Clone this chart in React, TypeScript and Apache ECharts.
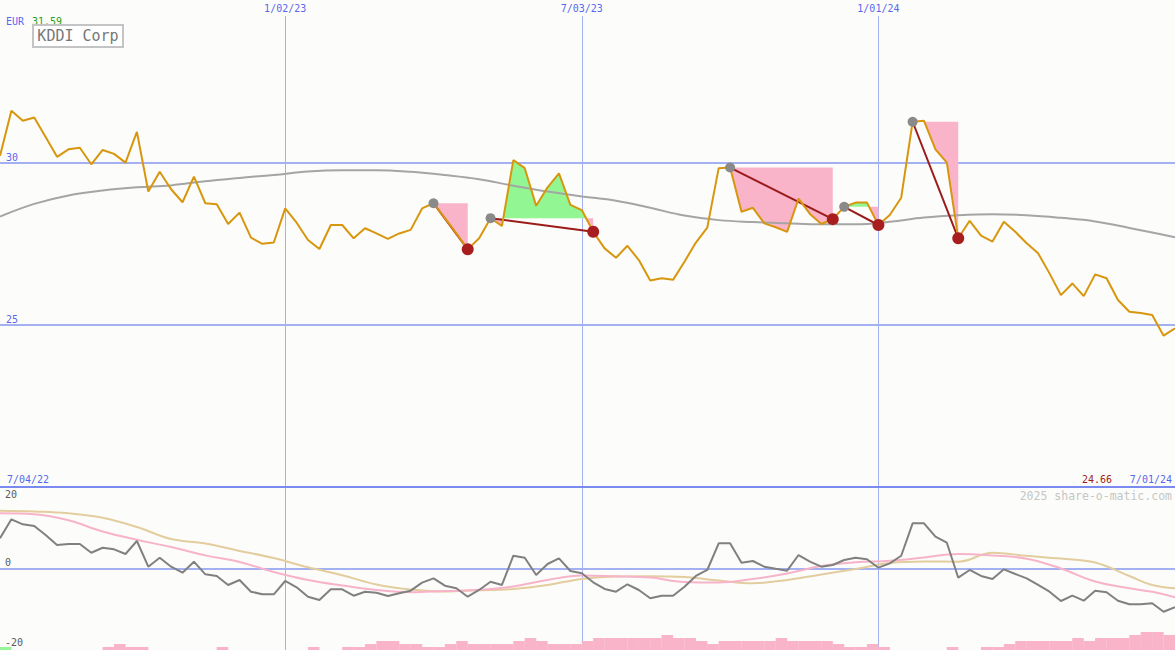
import React, { useEffect, useRef } from "react";
import * as echarts from "echarts";

// ---------- data ----------
// weekly closing price, week 1 .. week 104
const price = [
  30.2, 31.59, 31.28, 31.38, 30.78, 30.17, 30.4, 30.45, 29.94, 30.38,
  30.26, 29.99, 30.94, 29.1, 29.71, 29.17, 28.77, 29.56, 28.74, 28.71,
  28.1, 28.45, 27.68, 27.49, 27.53, 28.58, 28.14, 27.61, 27.33, 28.07,
  28.07, 27.66, 27.97, 27.81, 27.64, 27.81, 27.92, 28.58, 28.74, 28.28,
  27.81, 27.32, 27.66, 28.28, 28.04, 30.07, 29.82, 28.66, 29.23, 29.66,
  28.69, 28.53, 27.86, 27.35, 27.06, 27.43, 26.99, 26.36, 26.43, 26.38,
  26.94, 27.53, 27.99, 29.82, 29.84, 28.48, 28.6, 28.12, 28.0, 27.86,
  28.88, 28.41, 28.1, 28.25, 28.63, 28.76, 28.76, 28.07, 28.38, 28.91,
  31.25, 31.28, 30.4, 29.99, 27.66, 28.2, 27.74, 27.56, 28.17, 27.86,
  27.51, 27.2, 26.58, 25.91, 26.27, 25.88, 26.55, 26.43, 25.76, 25.4,
  25.36, 25.3, 24.66, 24.89,
];

// weeks at which the smooth curves were read
const smoothWeeks = [
  1, 4, 7, 10, 13, 16, 19, 22, 25, 28, 31, 34, 37, 40, 43, 46, 49, 52,
  55, 58, 61, 64, 67, 70, 73, 76, 79, 82, 85, 88, 91, 94, 97, 100, 102, 104,
];
const movingAverage = [
  28.33, 28.72, 28.98, 29.13, 29.23, 29.29, 29.42, 29.52, 29.61, 29.72,
  29.76, 29.76, 29.71, 29.61, 29.48, 29.28, 29.1, 28.95, 28.82, 28.6,
  28.36, 28.22, 28.16, 28.12, 28.09, 28.09, 28.17, 28.3, 28.37, 28.4,
  28.37, 28.29, 28.18, 27.98, 27.84, 27.69,
];
const oscPink = [
  14.9, 14.63, 13.01, 9.99, 7.75, 5.8, 3.54, 1.75, -0.94, -3.1, -4.59,
  -5.8, -6.42, -6.07, -5.75, -4.86, -3.1, -1.86, -2.08, -2.43, -3.64,
  -3.78, -2.83, -1.35, 0.67, 1.67, 2.08, 2.97, 3.91, 3.51, 2.65, 0.0,
  -3.51, -5.34, -6.29, -7.77,
];
const oscTan = [
  15.6, 15.38, 14.9, 13.68, 11.2, 7.96, 6.75, 4.72, 2.83, 0.32, -1.81,
  -4.32, -5.67, -6.21, -5.86, -5.53, -4.45, -2.81, -2.16, -2.11, -2.29,
  -3.24, -3.97, -3.1, -1.62, -0.11, 1.48, 1.89, 1.84, 4.24, 3.43, 2.67,
  1.62, -2.02, -4.45, -5.34,
];

// weekly oscillator, week 1 .. week 104
const oscGray = [
  8.15, 13.28, 11.93, 11.47, 9.04, 6.34, 6.61, 6.61, 4.26, 5.61,
  5.18, 3.91, 7.42, 0.49, 2.91, 0.49, -1.13, 1.84, -1.57, -2.02,
  -4.45, -3.1, -6.26, -6.96, -6.96, -3.37, -5.07, -7.61, -8.5, -5.61,
  -5.61, -7.34, -6.26, -6.53, -7.42, -6.69, -5.99, -3.83, -2.65, -4.64,
  -5.34, -7.61, -5.8, -3.56, -4.45, 3.45, 2.91, -1.75, 1.21, 2.75,
  -0.67, -1.3, -3.72, -5.53, -6.26, -4.26, -5.8, -8.04, -7.34, -7.34,
  -4.91, -2.02, -0.4, 6.8, 6.8, 1.57, 2.02, 0.49, -0.08, -0.59,
  3.64, 1.84, 0.49, 0.94, 2.29, 2.91, 2.48, 0.22, 1.4, 3.45,
  12.2, 12.2, 8.58, 6.96, -2.48, -0.4, -2.02, -2.83, -0.22, -1.48,
  -2.65, -4.45, -6.26, -8.77, -7.34, -8.69, -5.99, -6.42, -8.69, -9.66,
  -9.66, -9.39, -11.66, -10.47,
];

// weekly histogram, week 1 .. week 103 (positive = green, negative = pink)
const histValues = [
  1, 0, 0, 0, 0, 0, 0, 0, 0, -1,
  -2, -1, -1, 0, 0, 0, 0, 0, 0, -1,
  0, 0, 0, 0, 0, 0, 0, -1, 0, 0,
  -1, -1, -2, -3, -3, -2, -2, -1, -1, -2,
  -3, -2, -2, -2, -2, -3, -4, -3, -2, -2,
  -2, -3, -4, -4, -4, -4, -4, -4, -5, -4,
  -4, -3, -2, -3, -3, -3, -3, -3, -4, -3,
  -3, -3, -3, -2, -1, -1, -2, -1, 0, 0,
  0, 0, 0, -1, 0, 0, -1, -1, -2, -3,
  -3, -3, -3, -3, -4, -3, -4, -4, -4, -5,
  -6, -6, -5,
];

// swing high -> following low
const highWeeks = [39, 44, 65, 75, 81];
const lowWeeks = [42, 53, 74, 78, 85];

const dateTicks = [26, 52, 78];
const dateLabels = ["1/02/23", "7/03/23", "1/01/24"];
const rangeLabels = ["7/04/22", "7/01/24"];
const priceTicks = [25, 30];
const oscTicks = [-20, 0, 20];
const currency = "EUR";
const company = "KDDI Corp";
const watermark = "2025 share-o-matic.com";

// ---------- styling ----------
const X_MIN = 1;
const X_MAX = 104;
const BG = "#fcfdfa";
const BLUE_TEXT = "#5868ee";
const GRID_LINE = "#a3b1f3";
const SEP = "#7a8af0";
const FONT = '"DejaVu Sans Mono", "Liberation Mono", monospace';

const priceAt = (w: number) => price[w - 1];

type Fill = { pts: number[][]; up: boolean };

function buildFills(): Fill[] {
  const polys: Fill[] = [];
  highWeeks.forEach((s, n) => {
    const e = lowWeeks[n];
    const L = priceAt(s);
    const seq: { x: number; v: number; d: number }[] = [];
    for (let w = s; w <= e; w++) {
      const v = priceAt(w);
      const d = v - L;
      if (w > s) {
        const pd = priceAt(w - 1) - L;
        if ((pd > 0 && d < 0) || (pd < 0 && d > 0)) {
          const t = pd / (pd - d);
          seq.push({ x: w - 1 + t, v: L, d: 0 });
        }
      }
      seq.push({ x: w, v, d });
    }
    let run = [seq[0]];
    const flush = () => {
      const ref = run.find((p) => p.d !== 0);
      if (ref && run.length >= 2) {
        const pts = run.map((p) => [p.x, p.v]);
        pts.push([run[run.length - 1].x, L]);
        pts.push([run[0].x, L]);
        polys.push({ pts, up: ref.d > 0 });
      }
    };
    for (let k = 1; k < seq.length; k++) {
      run.push(seq[k]);
      if (seq[k].d === 0 && k < seq.length - 1) {
        flush();
        run = [seq[k]];
      }
    }
    flush();
  });
  return polys;
}

export default function App() {
  const ref = useRef<HTMLDivElement>(null);

  useEffect(() => {
    if (!ref.current) return;
    const chart = echarts.init(ref.current, undefined, { renderer: "svg" });
    const fills = buildFills();
    const maxPrice = Math.max(...price);
    const minPrice = Math.min(...price);

    const weekly = (arr: number[]) => arr.map((v, k) => [k + 1, v]);
    const sampled = (arr: number[]) => arr.map((v, k) => [smoothWeeks[k], v]);

    const option: any = {
      animation: false,
      backgroundColor: BG,
      grid: [
        { left: 0, top: 0, width: 1175, height: 487 },
        { left: 0, top: 487, width: 1175, height: 163 },
      ],
      xAxis: [
        {
          type: "value",
          gridIndex: 0,
          position: "top",
          min: X_MIN,
          max: X_MAX,
          axisLine: { show: false, onZero: false },
          axisTick: { show: false, customValues: dateTicks },
          axisLabel: {
            show: true,
            inside: true,
            customValues: dateTicks,
            formatter: (v: number) => {
              const k = dateTicks.indexOf(v);
              return k >= 0 ? dateLabels[k] : "";
            },
            color: BLUE_TEXT,
            fontFamily: FONT,
            fontSize: 10,
            margin: 0,
            padding: [3, 3, 3, 3],
            backgroundColor: BG,
          },
          splitLine: { show: true, lineStyle: { color: GRID_LINE, width: 1 } },
        },
        {
          type: "value",
          gridIndex: 0,
          position: "bottom",
          min: X_MIN,
          max: X_MAX,
          axisLine: { show: true, onZero: false, lineStyle: { color: SEP, width: 2 } },
          axisTick: { show: false, customValues: [X_MIN, X_MAX] },
          axisLabel: {
            show: true,
            inside: true,
            customValues: [X_MIN, X_MAX],
            formatter: (v: number) => (v === X_MIN ? rangeLabels[0] : rangeLabels[1]),
            alignMinLabel: "left",
            alignMaxLabel: "right",
            padding: [0, 3, 0, 7],
            margin: 3,
            color: BLUE_TEXT,
            fontFamily: FONT,
            fontSize: 10,
          },
          splitLine: { show: false },
        },
        {
          type: "value",
          gridIndex: 1,
          position: "bottom",
          min: X_MIN,
          max: X_MAX,
          axisLine: { show: false, onZero: false },
          axisTick: { show: false, customValues: dateTicks },
          axisLabel: { show: false },
          splitLine: { show: true, lineStyle: { color: GRID_LINE, width: 1 } },
        },
      ],
      yAxis: [
        {
          type: "value",
          gridIndex: 0,
          min: 20,
          max: 35,
          axisLine: { show: false },
          axisTick: { show: false, customValues: priceTicks },
          axisLabel: {
            show: true,
            inside: true,
            customValues: priceTicks,
            verticalAlign: "bottom",
            margin: 6,
            color: BLUE_TEXT,
            fontFamily: FONT,
            fontSize: 10,
          },
          splitLine: { show: true, lineStyle: { color: GRID_LINE, width: 2 } },
        },
        {
          type: "value",
          gridIndex: 1,
          min: -22,
          max: 22,
          axisLine: { show: false },
          axisTick: { show: false, customValues: [0] },
          axisLabel: {
            show: true,
            inside: true,
            customValues: oscTicks,
            margin: 5,
            color: "#5a5a5a",
            fontFamily: FONT,
            fontSize: 10,
            formatter: (v: number) => (v === 0 ? "{z|0}" : String(v)),
            rich: {
              z: {
                padding: [0, 0, 13, 0],
                color: "#5a5a5a",
                fontFamily: FONT,
                fontSize: 10,
              },
            },
          },
          splitLine: { show: true, lineStyle: { color: GRID_LINE, width: 2 } },
        },
        {
          type: "value",
          gridIndex: 1,
          position: "right",
          min: 0,
          max: 54.33,
          show: false,
          splitLine: { show: false },
        },
      ],
      series: [
        {
          type: "custom",
          xAxisIndex: 0,
          yAxisIndex: 0,
          silent: true,
          z: 1,
          data: fills.map((f, k) => [f.pts[0][0], f.pts[0][1], k]),
          renderItem: (params: any, api: any) => {
            const f = fills[params.dataIndex];
            const points = f.pts.map((p) => api.coord(p));
            return {
              type: "polygon",
              shape: { points },
              style: { fill: f.up ? "#92f792" : "#f9b4ca" },
            };
          },
        },
        {
          type: "line",
          xAxisIndex: 0,
          yAxisIndex: 0,
          data: sampled(movingAverage),
          smooth: 0.4,
          symbol: "none",
          silent: true,
          z: 2,
          lineStyle: { color: "#a5a5a5", width: 2 },
        },
        {
          type: "lines",
          coordinateSystem: "cartesian2d",
          xAxisIndex: 0,
          yAxisIndex: 0,
          silent: true,
          z: 3,
          data: highWeeks.map((s, n) => ({
            coords: [
              [s, priceAt(s)],
              [lowWeeks[n], priceAt(lowWeeks[n])],
            ],
          })),
          lineStyle: { color: "#9b1b1b", width: 2, opacity: 1 },
        },
        {
          type: "line",
          xAxisIndex: 0,
          yAxisIndex: 0,
          data: weekly(price),
          symbol: "none",
          silent: true,
          z: 4,
          lineStyle: { color: "#d8960e", width: 2 },
        },
        {
          type: "scatter",
          xAxisIndex: 0,
          yAxisIndex: 0,
          data: highWeeks.map((w) => [w, priceAt(w)]),
          symbolSize: 10,
          silent: true,
          z: 5,
          itemStyle: { color: "#8a8a8a", opacity: 1 },
        },
        {
          type: "scatter",
          xAxisIndex: 0,
          yAxisIndex: 0,
          data: lowWeeks.map((w) => [w, priceAt(w)]),
          symbolSize: 12,
          silent: true,
          z: 5,
          itemStyle: { color: "#a81e1e", opacity: 1 },
        },
        {
          type: "bar",
          xAxisIndex: 2,
          yAxisIndex: 2,
          barWidth: 11.6,
          silent: true,
          data: histValues
            .map((v, k) => ({ v, w: k + 1 }))
            .filter((d) => d.v !== 0)
            .map((d) => ({
              value: [d.w + 0.5, Math.abs(d.v)],
              itemStyle: { color: d.v > 0 ? "#96f596" : "#f9b4c9" },
            })),
        },
        {
          type: "line",
          xAxisIndex: 2,
          yAxisIndex: 1,
          data: sampled(oscTan),
          smooth: 0.4,
          symbol: "none",
          silent: true,
          lineStyle: { color: "#e3cd9e", width: 2 },
        },
        {
          type: "line",
          xAxisIndex: 2,
          yAxisIndex: 1,
          data: sampled(oscPink),
          smooth: 0.4,
          symbol: "none",
          silent: true,
          lineStyle: { color: "#f7b3c9", width: 2 },
        },
        {
          type: "line",
          xAxisIndex: 2,
          yAxisIndex: 1,
          data: weekly(oscGray),
          symbol: "none",
          silent: true,
          lineStyle: { color: "#808080", width: 2 },
        },
      ],
      graphic: [
        {
          type: "text",
          x: 6,
          y: 21,
          style: { text: currency, fill: BLUE_TEXT, font: `10px ${FONT}`, verticalAlign: "middle" },
        },
        {
          type: "text",
          x: 32,
          y: 21,
          style: { text: maxPrice.toFixed(2), fill: "#22a022", font: `10px ${FONT}`, verticalAlign: "middle" },
        },
        {
          type: "rect",
          shape: { x: 33, y: 25, width: 90, height: 22 },
          style: { fill: "#ffffff", stroke: "#c4c4c4", lineWidth: 2 },
        },
        {
          type: "text",
          x: 78,
          y: 36,
          style: {
            text: company,
            fill: "#777777",
            font: `15px ${FONT}`,
            align: "center",
            verticalAlign: "middle",
          },
        },
        {
          type: "text",
          x: 1112,
          y: 479,
          style: {
            text: minPrice.toFixed(2),
            fill: "#a01c1c",
            font: `10px ${FONT}`,
            align: "right",
            verticalAlign: "middle",
          },
        },
        {
          type: "text",
          x: 1172,
          y: 496,
          style: {
            text: watermark,
            fill: "#c6c6c6",
            font: `11.5px ${FONT}`,
            align: "right",
            verticalAlign: "middle",
          },
        },
      ],
    };

    chart.setOption(option);
    return () => chart.dispose();
  }, []);

  return (
    <div
      ref={ref}
      style={{ position: "fixed", left: 0, top: 0, width: 1175, height: 650, background: BG }}
    />
  );
}
